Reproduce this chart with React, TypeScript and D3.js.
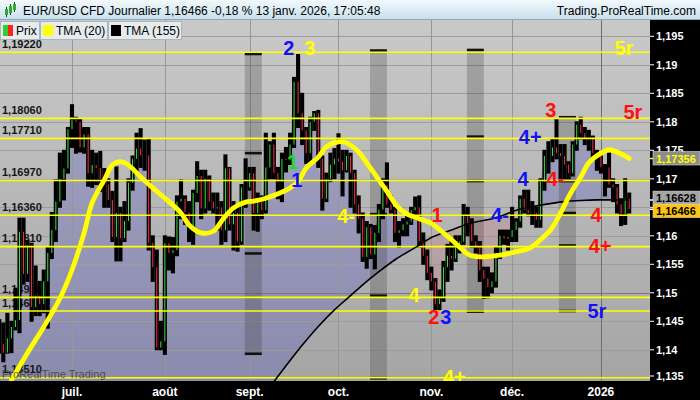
import React, { useEffect, useRef } from "react";
import * as d3 from "d3";

type Candle = [number, number, number, number]; // open, high, low, close

const juneCandles: Candle[] = [
	[1.144, 1.1453, 1.1394, 1.141],
	[1.141, 1.1447, 1.1379, 1.1395],
	[1.1395, 1.1464, 1.1394, 1.142],
	[1.142, 1.145, 1.1395, 1.144],
	[1.144, 1.1508, 1.1435, 1.1452],
	[1.1452, 1.1631, 1.143, 1.1607],
	[1.1607, 1.1631, 1.1515, 1.1533],
	[1.1533, 1.1592, 1.152, 1.1583],
	[1.1583, 1.1587, 1.145, 1.1475],
	[1.1475, 1.1547, 1.146, 1.1495],
	[1.1495, 1.152, 1.146, 1.148],
	[1.148, 1.154, 1.1465, 1.152],
	[1.152, 1.158, 1.1438, 1.157],
	[1.157, 1.1641, 1.156, 1.161],
	[1.161, 1.1698, 1.159, 1.166],
	[1.166, 1.1745, 1.165, 1.17],
	[1.17, 1.175, 1.1663, 1.1718],
	[1.1718, 1.179, 1.171, 1.1787],
];

const julyCandles: Candle[] = [
	[1.1787, 1.183, 1.1755, 1.1803],
	[1.1803, 1.1808, 1.1745, 1.18],
	[1.18, 1.1805, 1.1747, 1.1755],
	[1.1755, 1.179, 1.1745, 1.1778],
	[1.1778, 1.179, 1.1687, 1.171],
	[1.171, 1.175, 1.1685, 1.1724],
	[1.1724, 1.1745, 1.169, 1.1719],
	[1.1719, 1.1748, 1.1678, 1.17],
	[1.17, 1.1718, 1.165, 1.169],
	[1.169, 1.17, 1.165, 1.1663],
	[1.1663, 1.1678, 1.159, 1.1598],
	[1.1598, 1.1721, 1.1556, 1.164],
	[1.164, 1.165, 1.1556, 1.1596],
	[1.1596, 1.166, 1.159, 1.1626],
	[1.1626, 1.17, 1.161, 1.1693],
	[1.1693, 1.174, 1.168, 1.1735],
	[1.1735, 1.178, 1.1712, 1.1753],
	[1.1753, 1.1788, 1.172, 1.1741],
	[1.1741, 1.1768, 1.1715, 1.1741],
	[1.1741, 1.177, 1.1575, 1.1588],
	[1.1588, 1.16, 1.152, 1.1545],
	[1.1545, 1.1575, 1.14, 1.1404],
	[1.1404, 1.145, 1.14, 1.1415],
];

const augustCandles: Candle[] = [
	[1.1415, 1.16, 1.1392, 1.1587],
	[1.1587, 1.1598, 1.154, 1.157],
	[1.157, 1.1597, 1.1535, 1.1575],
	[1.1575, 1.167, 1.1565, 1.166],
	[1.166, 1.1698, 1.163, 1.1665],
	[1.1665, 1.167, 1.162, 1.1641],
	[1.1641, 1.166, 1.159, 1.1615],
	[1.1615, 1.168, 1.1585, 1.1675],
	[1.1675, 1.173, 1.166, 1.1705],
	[1.1705, 1.1715, 1.163, 1.1648],
	[1.1648, 1.1715, 1.164, 1.17],
	[1.17, 1.1705, 1.1645, 1.166],
	[1.166, 1.1675, 1.164, 1.1648],
	[1.1648, 1.1675, 1.161, 1.165],
	[1.165, 1.166, 1.1585, 1.161],
	[1.161, 1.1742, 1.159, 1.1718],
	[1.1718, 1.172, 1.161, 1.162],
	[1.162, 1.166, 1.1575, 1.164],
	[1.164, 1.165, 1.1573, 1.159],
	[1.159, 1.169, 1.1585, 1.1685],
	[1.1685, 1.1735, 1.165, 1.1685],
];

const septemberCandles: Candle[] = [
	[1.1685, 1.172, 1.168, 1.171],
	[1.171, 1.172, 1.161, 1.164],
	[1.164, 1.1675, 1.1608, 1.166],
	[1.166, 1.167, 1.163, 1.1645],
	[1.1645, 1.178, 1.164, 1.172],
	[1.172, 1.1765, 1.17, 1.176],
	[1.176, 1.178, 1.17, 1.171],
	[1.171, 1.172, 1.1665, 1.1695],
	[1.1695, 1.1745, 1.166, 1.1735],
	[1.1735, 1.1755, 1.1712, 1.1733],
	[1.1733, 1.178, 1.1725, 1.176],
	[1.176, 1.1878, 1.1755, 1.187],
	[1.187, 1.1918, 1.179, 1.1815],
	[1.1815, 1.185, 1.176, 1.1785],
	[1.1785, 1.179, 1.1727, 1.1745],
	[1.1745, 1.1808, 1.173, 1.18],
	[1.18, 1.1818, 1.1785, 1.1815],
	[1.1815, 1.182, 1.172, 1.1735],
	[1.1735, 1.174, 1.1645, 1.1665],
	[1.1665, 1.171, 1.166, 1.17],
	[1.17, 1.1745, 1.1695, 1.1725],
	[1.1725, 1.1753, 1.17, 1.1735],
];

const octoberCandles: Candle[] = [
	[1.1735, 1.1779, 1.171, 1.173],
	[1.173, 1.175, 1.167, 1.1715],
	[1.1715, 1.175, 1.1712, 1.174],
	[1.174, 1.1745, 1.165, 1.171],
	[1.171, 1.1715, 1.164, 1.1655],
	[1.1655, 1.167, 1.1605, 1.163],
	[1.163, 1.164, 1.1555, 1.1563],
	[1.1563, 1.1625, 1.1543, 1.1615],
	[1.1615, 1.162, 1.156, 1.1567],
	[1.1567, 1.1618, 1.1542, 1.1605],
	[1.1605, 1.1655, 1.159, 1.1646],
	[1.1646, 1.17, 1.163, 1.1689],
	[1.1689, 1.1728, 1.165, 1.1655],
	[1.1655, 1.167, 1.164, 1.1645],
	[1.1645, 1.165, 1.159, 1.1605],
	[1.1605, 1.1625, 1.158, 1.161],
	[1.161, 1.163, 1.16, 1.162],
	[1.162, 1.164, 1.16, 1.1625],
	[1.1625, 1.165, 1.162, 1.1645],
	[1.1645, 1.1668, 1.163, 1.165],
	[1.165, 1.167, 1.158, 1.159],
	[1.159, 1.1605, 1.155, 1.1565],
	[1.1565, 1.1575, 1.1523, 1.1535],
];

const novemberCandles: Candle[] = [
	[1.1535, 1.1545, 1.1505, 1.152],
	[1.152, 1.1525, 1.147, 1.148],
	[1.148, 1.1505, 1.1468, 1.149],
	[1.149, 1.1555, 1.1485, 1.1545],
	[1.1545, 1.1585, 1.152, 1.1565],
	[1.1565, 1.1593, 1.154, 1.156],
	[1.156, 1.16, 1.1555, 1.158],
	[1.158, 1.16, 1.157, 1.159],
	[1.159, 1.1655, 1.1585, 1.1635],
	[1.1635, 1.165, 1.16, 1.162],
	[1.162, 1.163, 1.158, 1.159],
	[1.159, 1.16, 1.157, 1.158],
	[1.158, 1.159, 1.152, 1.154],
	[1.154, 1.1545, 1.149, 1.1525],
	[1.1525, 1.1545, 1.1491, 1.151],
	[1.151, 1.1535, 1.15, 1.152],
	[1.152, 1.158, 1.151, 1.157],
	[1.157, 1.161, 1.156, 1.16],
	[1.16, 1.161, 1.1585, 1.1595],
	[1.1595, 1.161, 1.1575, 1.1598],
];

const decemberCandles: Candle[] = [
	[1.1598, 1.165, 1.159, 1.161],
	[1.161, 1.163, 1.159, 1.1625],
	[1.1625, 1.167, 1.1615, 1.1665],
	[1.1665, 1.168, 1.164, 1.1645],
	[1.1645, 1.168, 1.1635, 1.164],
	[1.164, 1.166, 1.162, 1.164],
	[1.164, 1.165, 1.1615, 1.1628],
	[1.1628, 1.17, 1.1615, 1.1695],
	[1.1695, 1.175, 1.168, 1.174],
	[1.174, 1.1765, 1.171, 1.174],
	[1.174, 1.177, 1.173, 1.1755],
	[1.1755, 1.1805, 1.1735, 1.1745],
	[1.1745, 1.176, 1.17, 1.174],
	[1.174, 1.176, 1.17, 1.1725],
	[1.1725, 1.173, 1.17, 1.171],
	[1.171, 1.1765, 1.1705, 1.176],
	[1.176, 1.18, 1.175, 1.1795],
	[1.1795, 1.1808, 1.177, 1.178],
	[1.178, 1.179, 1.176, 1.177],
	[1.177, 1.1785, 1.175, 1.177],
	[1.177, 1.1775, 1.1735, 1.1745],
	[1.1745, 1.175, 1.1715, 1.1745],
];

const januaryCandles: Candle[] = [
	[1.1745, 1.174, 1.171, 1.172],
	[1.172, 1.1725, 1.167, 1.172],
	[1.172, 1.1745, 1.1685, 1.169],
	[1.169, 1.17, 1.166, 1.1685],
	[1.1685, 1.169, 1.164, 1.1655],
	[1.1655, 1.1665, 1.1618, 1.1635],
	[1.1635, 1.17, 1.162, 1.1665],
	[1.1665, 1.1675, 1.164, 1.16466],
];

// trading days shown on the x axis
const firstDay = "2025-06-05";
const lastDay = "2026-01-13";
const holidays = ["2025-12-25", "2026-01-01"];
const monthLabels = ["juil.", "août", "sept.", "oct.", "nov.", "déc.", "2026"];

// [candle index, value]
const tma20: [number, number][] = [
	[3, 1.1347], [7, 1.1395], [11, 1.144], [15, 1.149], [18, 1.154],
	[21, 1.1605], [23, 1.1658], [26, 1.1698], [28, 1.1724], [30, 1.173],
	[32, 1.1724], [35, 1.1703], [38, 1.1684], [41.5, 1.1663], [45, 1.164],
	[47, 1.1619], [50, 1.1605], [53, 1.1608], [55.5, 1.163], [58, 1.1649],
	[61, 1.1659], [63, 1.1661], [66, 1.1666], [69.5, 1.1675], [72, 1.1684],
	[74, 1.1695], [76, 1.1719], [79, 1.1738], [81, 1.1756], [84, 1.1765],
	[86, 1.1763], [89, 1.1747], [91, 1.1728], [93.5, 1.1703], [96, 1.1678],
	[98.5, 1.1652], [101, 1.1638], [104, 1.163], [107, 1.1622], [108.5, 1.1614],
	[112, 1.1593], [114, 1.158], [116.5, 1.1566], [119, 1.1563], [124, 1.1566],
	[128, 1.1572], [131.5, 1.1579], [134.5, 1.1596], [136.5, 1.161], [139, 1.164],
	[141.5, 1.1675], [144, 1.1703], [146, 1.1728], [149, 1.1745], [151, 1.1751],
	[153, 1.1747], [156, 1.17356],
];

const tma155: [number, number][] = [
	[68, 1.1344], [71, 1.1372], [75, 1.1408], [79, 1.1441], [83, 1.147],
	[86.5, 1.1492], [90, 1.1514], [94, 1.1537], [98, 1.1558], [103.4, 1.1581],
	[107, 1.1597], [112, 1.161], [116.5, 1.1622], [121.5, 1.1629], [124, 1.1634],
	[128, 1.1645], [132, 1.1651], [136, 1.1656], [140, 1.166], [144, 1.1662],
	[148, 1.1663], [152, 1.1663], [156, 1.16628],
];

const levels = [1.1922, 1.1806, 1.1771, 1.1697, 1.1636, 1.1581, 1.1492, 1.1468, 1.1351];
const axisTicks = [1.135, 1.14, 1.145, 1.15, 1.155, 1.16, 1.165, 1.17, 1.175, 1.18, 1.185, 1.19, 1.195];

// shaded cycle bands: candle index span and the levels marked inside
const bandSpans: [number, number][] = [[60.8, 65], [91.8, 96], [115.8, 120], [138.6, 142.8]];
const bandMarks: number[][] = [
	[1.1919, 1.1745, 1.1569, 1.1393],
	[1.1925, 1.1638, 1.1495, 1.135],
	[1.1926, 1.1774, 1.1696, 1.1467],
	[1.1808, 1.1696, 1.164, 1.1583, 1.1468],
];

// wave labels: text, colour key, candle index, value of the baseline
const waveLabels: [string, string, number, number][] = [
	["2", "blue", 71.7, 1.19173],
	["3", "yellow", 76.9, 1.19173],
	["5r", "yellow", 154.7, 1.19173],
	["3", "red", 136.6, 1.18085],
	["5r", "red", 156.9, 1.18045],
	["4+", "blue", 131.5, 1.17606],
	["1", "green", 72.6, 1.17167],
	["1", "blue", 73.7, 1.16852],
	["4", "blue", 129.7, 1.16874],
	["4-", "red", 137.7, 1.16874],
	["4-", "blue", 124, 1.16248],
	["4", "red", 147.8, 1.16248],
	["4+", "red", 148.8, 1.15694],
	["5r", "blue", 148, 1.14553],
	["4-", "yellow", 85.9, 1.1622],
	["1", "red", 108.4, 1.16248],
	["4", "yellow", 102.7, 1.14845],
	["2", "red", 107.6, 1.14453],
	["3", "blue", 110.6, 1.14453],
	["4+", "yellow", 112.7, 1.13401],
];

const priceTagLabels = ["1,17356", "1,16628", "1,16466"];
const priceTagValues = [1.17356, 1.16628, 1.16466];

const FONT = "'Liberation Sans', Arial, Helvetica, sans-serif";

export default function App() {
	const svgRef = useRef<SVGSVGElement>(null);

	useEffect(() => {
		if (!svgRef.current) return;
		const svg = d3.select(svgRef.current);
		svg.selectAll("*").remove();

		const W = 700;
		const H = 400;
		const plotTop = 20;
		const plotBottom = 381;
		const plotRight = 650;

		const candles = [
			...juneCandles,
			...julyCandles,
			...augustCandles,
			...septemberCandles,
			...octoberCandles,
			...novemberCandles,
			...decemberCandles,
			...januaryCandles,
		];

		const parse = d3.timeParse("%Y-%m-%d");
		const fmt = d3.timeFormat("%Y-%m-%d");
		const days = d3
			.timeDay.range(parse(firstDay)!, d3.timeDay.offset(parse(lastDay)!, 1))
			.filter((d) => d.getDay() !== 0 && d.getDay() !== 6 && !holidays.includes(fmt(d)));
		const n = Math.min(days.length, candles.length);
		const data = candles.slice(0, n);
		const monthStarts = d3
			.range(1, n)
			.filter((i) => days[i].getMonth() !== days[i - 1].getMonth());

		const x = d3.scaleLinear().domain([0, 156]).range([-0.7, 629.2]);
		const y = d3.scaleLinear().domain([1.135, 1.195]).range([378.3, 36.3]);

		const colors: Record<string, string> = {
			blue: "#1010ff",
			yellow: "#ffff00",
			red: "#ff1010",
			green: "#22dc22",
		};

		const defs = svg.append("defs");
		const bg = defs
			.append("linearGradient")
			.attr("id", "bgGrad")
			.attr("x1", 0).attr("y1", 0).attr("x2", 0).attr("y2", 1);
		bg.append("stop").attr("offset", "0%").attr("stop-color", "#c9c9c9");
		bg.append("stop").attr("offset", "100%").attr("stop-color", "#a5a5a5");
		const hd = defs
			.append("linearGradient")
			.attr("id", "headGrad")
			.attr("x1", 0).attr("y1", 0).attr("x2", 0).attr("y2", 1);
		hd.append("stop").attr("offset", "0%").attr("stop-color", "#f2f9fd");
		hd.append("stop").attr("offset", "100%").attr("stop-color", "#c6dfec");

		defs.append("clipPath").attr("id", "plotClip")
			.append("rect")
			.attr("x", 0).attr("y", plotTop)
			.attr("width", plotRight).attr("height", plotBottom - plotTop);

		const tmaArea = d3.area<[number, number]>()
			.x((d) => x(d[0]))
			.curve(d3.curveMonotoneX);
		const above = defs.append("clipPath").attr("id", "aboveTma");
		above.append("path").attr("d", tmaArea.y0(plotTop - 5).y1((d) => y(d[1]))(tma155));
		above.append("rect")
			.attr("x", -5).attr("y", plotTop - 5)
			.attr("width", x(tma155[0][0]) + 5.5).attr("height", plotBottom - plotTop + 10);
		defs.append("clipPath").attr("id", "belowTma")
			.append("path")
			.attr("d", tmaArea.y0((d) => y(d[1])).y1(plotBottom + 5)(tma155));

		// background of the price pane
		svg.append("rect")
			.attr("x", 0).attr("y", plotTop)
			.attr("width", plotRight).attr("height", plotBottom - plotTop)
			.attr("fill", "url(#bgGrad)");

		const plot = svg.append("g").attr("clip-path", "url(#plotClip)");

		// cloud between price and the long average
		plot.append("g").attr("clip-path", "url(#aboveTma)")
			.append("path")
			.attr("d", d3.area<Candle>().x((d, i) => x(i)).y0(plotBottom).y1((d) => y(d[3]))(data))
			.attr("fill", "rgba(70,70,195,0.27)");
		plot.append("g").attr("clip-path", "url(#belowTma)")
			.append("path")
			.attr("d", d3.area<Candle>().x((d, i) => x(i)).y0(plotTop).y1((d) => y(d[3]))(data))
			.attr("fill", "rgba(200,110,120,0.25)");

		// grid
		plot.append("g")
			.selectAll("line")
			.data(axisTicks)
			.join("line")
			.attr("x1", 0).attr("x2", plotRight)
			.attr("y1", (d) => Math.round(y(d)) + 0.5).attr("y2", (d) => Math.round(y(d)) + 0.5)
			.attr("stroke", (d) => (Math.abs(d - 1.15) < 1e-6 ? "#7a7a7a" : "#9c9c9c"))
			.attr("stroke-width", 1);
		plot.append("g")
			.selectAll("line")
			.data(monthStarts)
			.join("line")
			.attr("x1", (d) => Math.round(x(d)) + 0.5).attr("x2", (d) => Math.round(x(d)) + 0.5)
			.attr("y1", plotTop).attr("y2", plotBottom)
			.attr("stroke", (d, i) => (i === monthStarts.length - 1 ? "#6e6e6e" : "#969696"))
			.attr("stroke-width", 1);

		// cycle bands
		const bands = plot.append("g");
		bandSpans.forEach(([a, b], k) => {
			const marks = bandMarks[k];
			const top = y(d3.max(marks)!);
			const bottom = y(d3.min(marks)!);
			bands.append("rect")
				.attr("x", x(a)).attr("width", x(b) - x(a))
				.attr("y", top).attr("height", bottom - top)
				.attr("fill", "rgba(45,45,45,0.24)");
			bands.selectAll(null)
				.data(marks)
				.join("rect")
				.attr("x", x(a)).attr("width", x(b) - x(a))
				.attr("y", (d) => y(d) - 1.3).attr("height", 2.6)
				.attr("fill", "#111");
		});

		// level labels (behind the candles)
		plot.append("g")
			.selectAll("text")
			.data(levels)
			.join("text")
			.attr("x", 2)
			.attr("y", (d) => y(d) - 4.5)
			.attr("font-family", FONT)
			.attr("font-size", 11)
			.attr("font-weight", "bold")
			.attr("fill", "#151515")
			.text((d) => d.toFixed(5).replace(".", ","));

		// candles: full black bar high..low, coloured line open..close
		const cg = plot.append("g");
		cg.selectAll("rect.bar")
			.data(data)
			.join("rect")
			.attr("class", "bar")
			.attr("x", (d, i) => x(i) - 2.05)
			.attr("width", 4.1)
			.attr("y", (d) => y(d[1]) - 0.5)
			.attr("height", (d) => Math.max(1.5, y(d[2]) - y(d[1]) + 1))
			.attr("fill", "#000");
		cg.selectAll("rect.core")
			.data(data)
			.join("rect")
			.attr("class", "core")
			.attr("x", (d, i) => x(i) - 0.5)
			.attr("width", 1)
			.attr("y", (d) => y(Math.max(d[0], d[3])))
			.attr("height", (d) => Math.abs(y(d[0]) - y(d[3])))
			.attr("fill", (d) => (d[3] >= d[0] ? "#3fe03f" : "#ff2d4d"));

		// horizontal levels
		plot.append("g")
			.selectAll("line")
			.data(levels)
			.join("line")
			.attr("x1", 0).attr("x2", plotRight)
			.attr("y1", (d) => y(d)).attr("y2", (d) => y(d))
			.attr("stroke", "#ffff00")
			.attr("stroke-width", 1.6);

		// moving averages
		plot.append("path")
			.attr("d", d3.line<[number, number]>().x((d) => x(d[0])).y((d) => y(d[1])).curve(d3.curveMonotoneX)(tma155))
			.attr("fill", "none")
			.attr("stroke", "#000")
			.attr("stroke-width", 1.6);
		plot.append("path")
			.attr("d", d3.line<[number, number]>().x((d) => x(d[0])).y((d) => y(d[1])).curve(d3.curveCatmullRom.alpha(0.5))(tma20))
			.attr("fill", "none")
			.attr("stroke", "#ffff00")
			.attr("stroke-width", 4.8)
			.attr("stroke-linecap", "round");

		plot.append("text")
			.attr("x", 2).attr("y", 378)
			.attr("font-family", FONT)
			.attr("font-size", 11)
			.attr("fill", "#3a3a3a")
			.attr("fill-opacity", 0.8)
			.text("ProRealTime Trading");

		// wave labels
		plot.append("g")
			.selectAll("text")
			.data(waveLabels)
			.join("text")
			.attr("x", (d) => x(d[2]))
			.attr("y", (d) => y(d[3]))
			.attr("text-anchor", "middle")
			.attr("font-family", FONT)
			.attr("font-size", 20)
			.attr("font-weight", "bold")
			.attr("fill", (d) => colors[d[1]])
			.text((d) => d[0]);

		// right axis
		svg.append("rect")
			.attr("x", plotRight).attr("y", plotTop)
			.attr("width", W - plotRight).attr("height", H - plotTop)
			.attr("fill", "#000");
		svg.append("rect")
			.attr("x", 0).attr("y", plotBottom)
			.attr("width", W).attr("height", H - plotBottom)
			.attr("fill", "#000");

		// current value tags, pushed apart when they overlap
		const tagY = priceTagValues.map((v) => y(v));
		for (let k = 1; k < tagY.length; k++) {
			const gap = tagY[k] - tagY[k - 1];
			if (gap < 13) {
				const push = (13 - gap) / 2;
				tagY[k - 1] -= push;
				tagY[k] += push;
			}
		}
		// tick labels hidden under a value tag are left out
		const shownTicks = axisTicks.filter((v) => tagY.every((t) => Math.abs(t - y(v)) > 7));

		const ax = svg.append("g");
		ax.selectAll("line")
			.data(axisTicks)
			.join("line")
			.attr("x1", plotRight).attr("x2", plotRight + 4)
			.attr("y1", (d) => Math.min(376, y(d))).attr("y2", (d) => Math.min(376, y(d)))
			.attr("stroke", "#fff");
		ax.selectAll("text")
			.data(shownTicks)
			.join("text")
			.attr("x", plotRight + 6)
			.attr("y", (d) => Math.min(376, y(d)) + 4)
			.attr("font-family", FONT)
			.attr("font-size", 11)
			.attr("font-weight", "bold")
			.attr("fill", "#fff")
			.text((d) => d3.format(".3~f")(d).replace(".", ","));

		const tagFill = ["#8c8c8c", "#a4a4a4", "#ffc20e"];
		const tagText = ["#ffff00", "#000", "#000"];
		const tags = svg.append("g");
		priceTagLabels.forEach((label, k) => {
			tags.append("line")
				.attr("x1", plotRight).attr("x2", plotRight + 4)
				.attr("y1", y(priceTagValues[k])).attr("y2", y(priceTagValues[k]))
				.attr("stroke", k === 0 ? "#ffff00" : "#fff")
				.attr("stroke-width", 1.5);
			tags.append("rect")
				.attr("x", plotRight + 3).attr("y", tagY[k] - 7)
				.attr("width", W - plotRight - 3).attr("height", 13.5)
				.attr("fill", tagFill[k])
				.attr("stroke", "#d8d8d8")
				.attr("stroke-width", 0.6);
			tags.append("text")
				.attr("x", plotRight + 6).attr("y", tagY[k] + 4)
				.attr("font-family", FONT)
				.attr("font-size", 11)
				.attr("font-weight", "bold")
				.attr("fill", tagText[k])
				.text(label);
		});

		// bottom axis
		svg.append("g")
			.selectAll("text")
			.data(monthStarts)
			.join("text")
			.attr("x", (d) => x(d))
			.attr("y", 396)
			.attr("text-anchor", "middle")
			.attr("font-family", FONT)
			.attr("font-size", 12)
			.attr("font-weight", "bold")
			.attr("fill", "#fff")
			.text((d, i) => monthLabels[i]);

		// header
		svg.append("rect")
			.attr("x", 0).attr("y", 0)
			.attr("width", W).attr("height", plotTop)
			.attr("fill", "url(#headGrad)");
		svg.append("line")
			.attr("x1", 0).attr("x2", W)
			.attr("y1", plotTop - 0.5).attr("y2", plotTop - 0.5)
			.attr("stroke", "#8fa6b4");
		const icon = svg.append("g");
		[[6, 9, 6], [10, 6, 7], [14, 4, 6]].forEach(([ix, iy, ih]) => {
			icon.append("line")
				.attr("x1", ix + 0.5).attr("x2", ix + 0.5)
				.attr("y1", iy - 2).attr("y2", iy + ih + 2)
				.attr("stroke", "#333");
			icon.append("rect")
				.attr("x", ix - 1).attr("y", iy)
				.attr("width", 3).attr("height", ih)
				.attr("fill", "#2faa2f");
		});
		svg.append("text")
			.attr("x", 23).attr("y", 15)
			.attr("font-family", FONT)
			.attr("font-size", 12)
			.attr("fill", "#000")
			.text("EUR/USD CFD Journalier 1,16466 -0,18 % 13 janv. 2026, 17:05:48");
		svg.append("text")
			.attr("x", 696).attr("y", 15)
			.attr("text-anchor", "end")
			.attr("font-family", FONT)
			.attr("font-size", 12)
			.attr("fill", "#000")
			.text("Trading.ProRealTime.com");

		// legend
		const legendItems = [
			{ label: "Prix", x0: 0, w: 39 },
			{ label: "TMA (20)", x0: 40, w: 67 },
			{ label: "TMA (155)", x0: 108, w: 73 },
		];
		const lg = svg.append("g");
		legendItems.forEach((it, k) => {
			lg.append("rect")
				.attr("x", it.x0 + 0.5).attr("y", 21.5)
				.attr("width", it.w).attr("height", 18)
				.attr("fill", "#e6ebee")
				.attr("stroke", "#aab6bd");
			if (k === 0) {
				lg.append("rect").attr("x", it.x0 + 3).attr("y", 25).attr("width", 5).attr("height", 11).attr("fill", "#2fcf2f");
				lg.append("rect").attr("x", it.x0 + 8).attr("y", 25).attr("width", 5).attr("height", 11).attr("fill", "#ff2020");
			} else {
				lg.append("rect")
					.attr("x", it.x0 + 3).attr("y", 25)
					.attr("width", 10).attr("height", 11)
					.attr("fill", k === 1 ? "#ffff00" : "#000");
			}
			lg.append("text")
				.attr("x", it.x0 + 16).attr("y", 35)
				.attr("font-family", FONT)
				.attr("font-size", 12)
				.attr("fill", "#000")
				.text(it.label);
		});
	}, []);

	return (
		<svg
			ref={svgRef}
			width={700}
			height={400}
			style={{ position: "absolute", left: 0, top: 0, display: "block" }}
		/>
	);
}
